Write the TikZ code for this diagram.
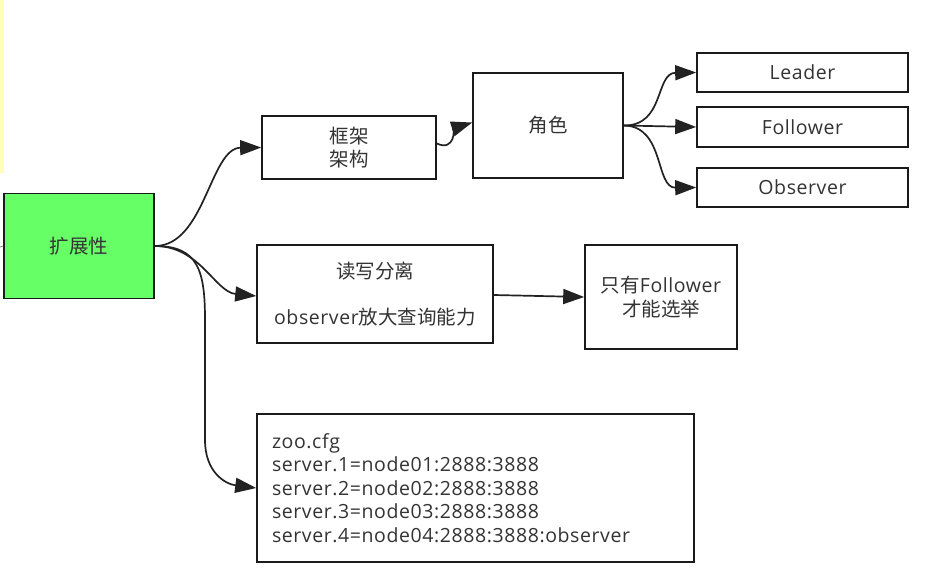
\documentclass[tikz,border=0pt]{standalone}
\usepackage{fontspec}
\setmainfont[LetterSpace=3]{Open Sans}
\newfontfamily\cjk{Noto Sans CJK SC}
\usetikzlibrary{arrows.meta}
\definecolor{boxline}{HTML}{1A1A1A}
\definecolor{txt}{HTML}{333333}
\definecolor{arr}{HTML}{222222}
\definecolor{rootgreen}{HTML}{66FF66}
\definecolor{stripyellow}{HTML}{FFFFB8}
\tikzset{
  box/.style={draw=boxline, line width=1.6pt, fill=white, rectangle, inner sep=0pt,
    text=txt, align=center, font=\fontsize{19.5}{23.5}\selectfont},
  conn/.style={draw=arr, line width=1.7pt,
    -{Triangle[length=21pt,width=15pt,fill=arr]}},
}
\begin{document}
\begin{tikzpicture}[x=1pt,y=-1pt]
\useasboundingbox (0,0) rectangle (934,578);
\fill[stripyellow] (0,0) rectangle (3.5,173);

\node[box, fill=rootgreen, minimum width=150pt, minimum height=105pt] (root) at (79,246) {\cjk 扩展性};
\node[box, minimum width=174pt, minimum height=63pt] (frame) at (349,147.5) {\cjk 框架\\\cjk 架构};
\node[box, minimum width=150pt, minimum height=105pt] (role) at (548,125.5) {\cjk 角色};
\node[box, minimum width=211pt, minimum height=39pt] (leader) at (802.5,72.5) {Leader};
\node[box, minimum width=211pt, minimum height=40pt] (follower) at (802.5,127) {Follower};
\node[box, minimum width=211pt, minimum height=39pt] (observer) at (802.5,187.5) {Observer};
\node[box, minimum width=236pt, minimum height=98pt] (rw) at (375,294) {\cjk 读写分离\\[23pt]observer{\cjk 放大查询能力}};
\node[box, minimum width=152pt, minimum height=104pt] (only) at (661,297) {{\cjk 只有}Follower\\\cjk 才能选举};
\node[box, minimum width=437pt, minimum height=148pt, text width=407pt, align=left] (zoo) at (475.5,488)
  {zoo.cfg\\server.1=node01:2888:3888\\server.2=node02:2888:3888\\server.3=node03:2888:3888\\server.4=node04:2888:3888:observer};

\coordinate (stub) at (0,247);
\draw[draw=gray, line width=0.8pt] (stub) -- (root.west);

\draw[conn] (root.east) .. controls (205,246) and (210,148) .. (frame.west);
\draw[conn] (root.east) .. controls (200,246) and (215,292) .. ([yshift=-2pt]rw.west);
\draw[conn] (root.east) .. controls (198,246) and (205,270) .. (205,320) -- (205,440) .. controls (205,472) and (225,484) .. (zoo.west);
\draw[conn] ([yshift=4pt]frame.east) .. controls (455,152) and (455,128) .. ([yshift=3pt]role.west);
\draw[conn] (role.east) .. controls (665,126) and (655,73) .. (leader.west);
\draw[conn] (role.east) -- (follower.west);
\draw[conn] (role.east) .. controls (665,126) and (655,188) .. (observer.west);
\draw[conn] ([yshift=-1pt]rw.east) -- (only.west);
\end{tikzpicture}
\end{document}
